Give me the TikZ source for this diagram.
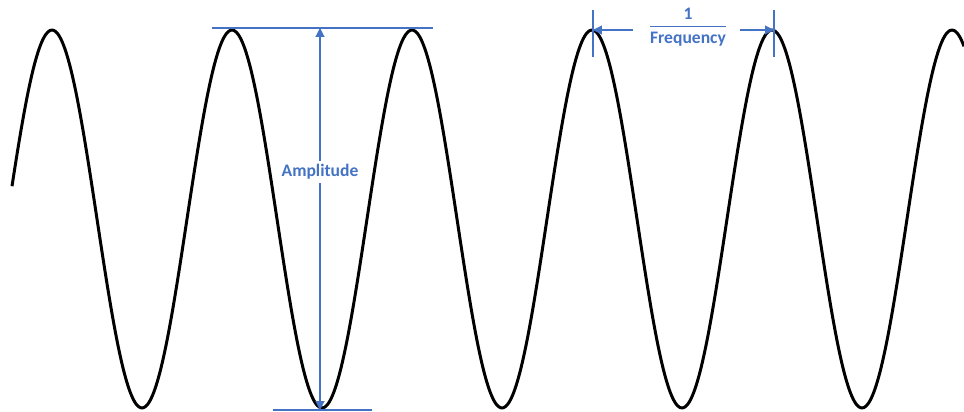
\documentclass[tikz,border=0pt]{standalone}
\usepackage{amsmath}
\usepackage{fontspec}
\setmainfont{Carlito}
\usetikzlibrary{arrows.meta, positioning}
\definecolor{dimblue}{HTML}{4472C4}

\begin{document}
\begin{tikzpicture}[x=0.02cm, y=-0.02cm,
    wave/.style={line width=1.7pt, line join=round},
    dim/.style={dimblue, line width=0.6pt},
    dimarrow/.style={dim, -{Triangle[length=5pt, width=5pt]}},
    dimlabel/.style={text=dimblue, font=\bfseries, inner sep=2pt}]
    \useasboundingbox (0,0) rectangle (964,412);

    % 绘制正弦波
    \draw[wave] plot[domain=12:964, samples=400, smooth] (\x, {219-189*cos(2*(\x-52))});

    % 振幅标注
    \coordinate (ampTop) at (320,28);
    \coordinate (ampBot) at (320,410);
    \draw[dim] (212,28) -- (433,28);
    \draw[dim] (273,410) -- (372,410);
    \node[dimlabel] (ampLabel) at (320,172) {Amplitude};
    \draw[dimarrow] (ampLabel) -- (ampTop);
    \draw[dimarrow] (ampLabel) -- (ampBot);

    % 周期标注
    \foreach \x in {593,774}
        \draw[dim] (\x,10) -- (\x,57);
    \coordinate (freqL) at (593,30);
    \coordinate (freqR) at (774,30);
    \node[dimlabel] (freqLabel) at (688,27) {\(\dfrac{\text{1}}{\text{Frequency}}\)};
    \coordinate (freqGapL) at (633,30);
    \coordinate (freqGapR) at (740,30);
    \draw[dimarrow] (freqGapL) -- (freqL);
    \draw[dimarrow] (freqGapR) -- (freqR);
\end{tikzpicture}
\end{document}
